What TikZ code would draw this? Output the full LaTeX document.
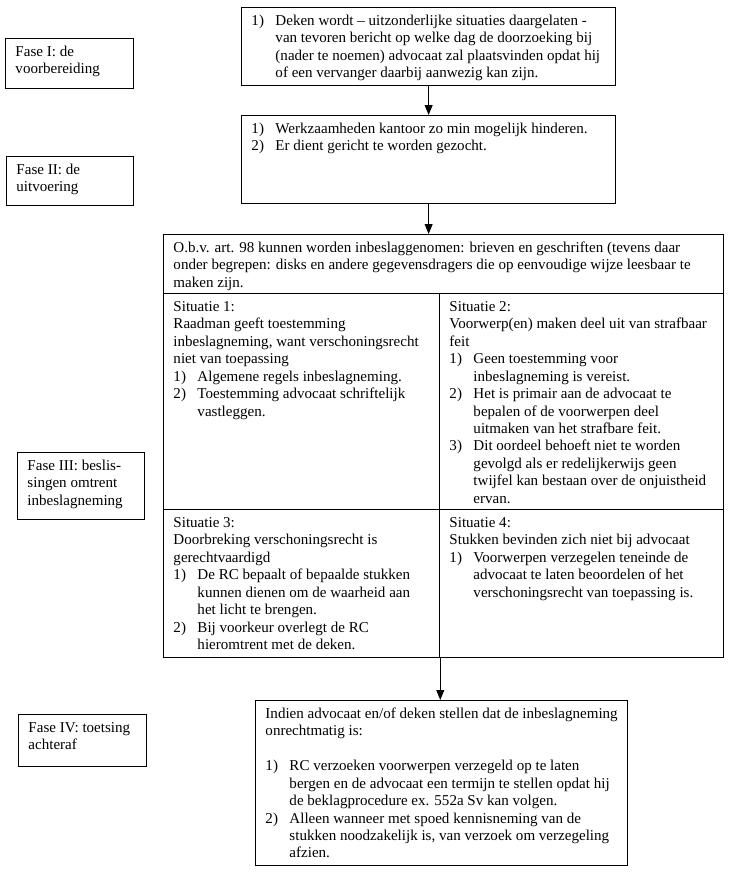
\documentclass[tikz,border=0pt]{standalone}
\usepackage{fontspec}
\setmainfont{Liberation Serif}
\usepackage{tikz}
\usetikzlibrary{arrows.meta, positioning}
\newlength{\pxu}
\setlength{\pxu}{0.025cm}
% fixed-size box content, text at the top
\newcommand{\boxtext}[3]{\parbox[c][\dimexpr#2\pxu-8pt\relax][t]{\dimexpr#1\pxu-14pt\relax}{\everypar{\strut}#3}}
\newcommand{\itm}[2]{\par\noindent\hangindent=0.6cm\hangafter=1 \makebox[0.6cm][l]{#1}#2\par}
\tikzset{
  block/.style={draw, line width=0.9pt, anchor=north west, inner xsep=7pt, inner ysep=4pt},
  phase/.style={block},
  arrow/.style={-{Triangle[length=7pt, width=5.5pt]}, line width=0.9pt},
}

\begin{document}
\begin{tikzpicture}[x=0.025cm, y=-0.025cm, font=\fontsize{10.7}{12.4}\selectfont]
  \useasboundingbox (0,0) rectangle (751,873);

  % phases on the left
  \node[phase] (faseone) at (5,38) {\boxtext{128}{50}{Fase I: de\\voorbereiding}};
  \node[phase] (fasetwo) at (6,156) {\boxtext{127}{49}{Fase II: de\\uitvoering}};
  \node[phase] (fasethree) at (17,452) {\boxtext{127}{67}{Fase III: beslis-\\singen omtrent\\inbeslagneming}};
  \node[phase] (fasefour) at (18,714) {\boxtext{128}{52}{Fase IV: toetsing\\achteraf}};

  % main column
  \node[block] (stepone) at (241,7) {\boxtext{374}{78}{%
    \itm{1)}{Deken wordt -- uitzonderlijke situaties daargelaten -\\van tevoren bericht op welke dag de doorzoeking bij\\(nader te noemen) advocaat zal plaatsvinden opdat hij\\of een vervanger daarbij aanwezig kan zijn.}}};
  \node[block] (steptwo) at (241,115) {\boxtext{374}{88}{%
    \itm{1)}{Werkzaamheden kantoor zo min mogelijk hinderen.}
    \itm{2)}{Er dient gericht te worden gezocht.}}};

  \node[block] (intro) at (163,234) {\boxtext{560}{59}{%
    O.b.v. art. 98 kunnen worden inbeslaggenomen: brieven en geschriften (tevens daar\\onder begrepen: disks en andere gegevensdragers die op eenvoudige wijze leesbaar te\\maken zijn.}};
  \node[block] (sitone) at (163,293) {\boxtext{276}{216}{%
    Situatie 1:\\Raadman geeft toestemming\\inbeslagneming, want verschoningsrecht\\niet van toepassing
    \itm{1)}{Algemene regels inbeslagneming.}
    \itm{2)}{Toestemming advocaat schriftelijk\\vastleggen.}}};
  \node[block] (sittwo) at (439,293) {\boxtext{284}{216}{%
    Situatie 2:\\Voorwerp(en) maken deel uit van strafbaar\\feit
    \itm{1)}{Geen toestemming voor\\inbeslagneming is vereist.}
    \itm{2)}{Het is primair aan de advocaat te\\bepalen of de voorwerpen deel\\uitmaken van het strafbare feit.}
    \itm{3)}{Dit oordeel behoeft niet te worden\\gevolgd als er redelijkerwijs geen\\twijfel kan bestaan over de onjuistheid\\ervan.}}};
  \node[block] (sitthree) at (163,509) {\boxtext{276}{148}{%
    Situatie 3:\\Doorbreking verschoningsrecht is\\gerechtvaardigd
    \itm{1)}{De RC bepaalt of bepaalde stukken\\kunnen dienen om de waarheid aan\\het licht te brengen.}
    \itm{2)}{Bij voorkeur overlegt de RC\\hieromtrent met de deken.}}};
  \node[block] (sitfour) at (439,509) {\boxtext{284}{148}{%
    Situatie 4:\\Stukken bevinden zich niet bij advocaat
    \itm{1)}{Voorwerpen verzegelen teneinde de\\advocaat te laten beoordelen of het\\verschoningsrecht van toepassing is.}}};

  \node[block] (review) at (255,700) {\boxtext{372}{165}{%
    Indien advocaat en/of deken stellen dat de inbeslagneming\\onrechtmatig is:\par\vspace{\baselineskip}
    \itm{1)}{RC verzoeken voorwerpen verzegeld op te laten\\bergen en de advocaat een termijn te stellen opdat hij\\de beklagprocedure ex. 552a Sv kan volgen.}
    \itm{2)}{Alleen wanneer met spoed kennisneming van de\\stukken noodzakelijk is, van verzoek om verzegeling\\afzien.}}};

  % arrows
  \draw[arrow] (stepone.south) -- (steptwo.north);
  \draw[arrow] (steptwo.south) -- (steptwo.south |- intro.north);
  \draw[arrow] (sitthree.south east) -- (sitthree.south east |- review.north);
\end{tikzpicture}
\end{document}
